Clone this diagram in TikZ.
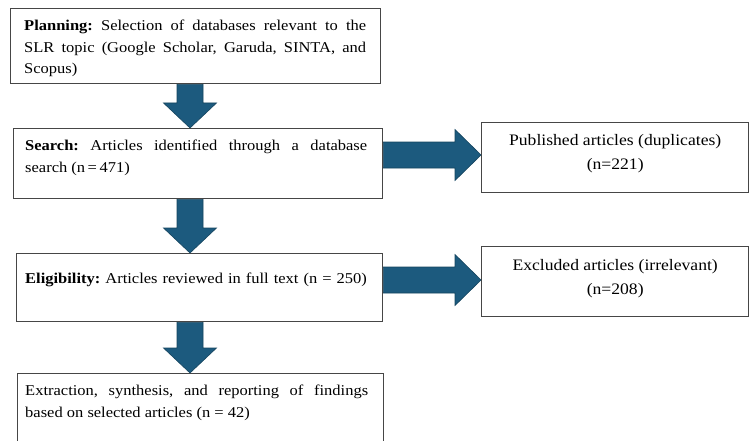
\documentclass[tikz,border=0pt]{standalone}
\usepackage{fontspec}
\setmainfont{Liberation Serif}[FakeStretch=1.1]
\usetikzlibrary{calc}
\definecolor{arrowblue}{RGB}{28,90,126}
\definecolor{boxgray}{RGB}{70,70,70}
\newcommand{\vblock}[2]{\path[blk] ($(#1)+(-13,0)$) -- ($(#1)+(13,0)$) -- ($(#2)+(13,25)$) -- ($(#2)+(26.5,25)$) -- (#2) -- ($(#2)+(-26.5,25)$) -- ($(#2)+(-13,25)$) -- cycle;}
\newcommand{\hblock}[2]{\path[blk] ($(#1)+(0,13)$) -- ($(#2)+(-26,13)$) -- ($(#2)+(-26,25.5)$) -- (#2) -- ($(#2)+(-26,-25.5)$) -- ($(#2)+(-26,-13)$) -- ($(#1)+(0,-13)$) -- cycle;}
\begin{document}
\frenchspacing
\begin{tikzpicture}[x=1pt,y=1pt,
  box/.style={draw=boxgray, line width=1.4pt, fill=white, anchor=north west, inner sep=0pt},
  txt/.style={anchor=north west, inner sep=0pt, font=\fontsize{15}{21.5}\selectfont, align=justify, text width=#1},
  ctxt/.style={inner sep=0pt, font=\fontsize{16}{23.5}\selectfont, align=center},
  blk/.style={fill=arrowblue, draw=arrowblue!75!black, line width=0.6pt}]
\useasboundingbox (0,0) rectangle (749,-441);
\clip (0,0) rectangle (749,-441);
\fill[white] (0,0) rectangle (749,-441);

\node[box, minimum width=370, minimum height=75] (plan) at (10,-8) {};
\node[box, minimum width=369, minimum height=70] (search) at (13,-128) {};
\node[box, minimum width=267, minimum height=70] (pub) at (481,-122) {};
\node[box, minimum width=366, minimum height=68] (elig) at (16,-253) {};
\node[box, minimum width=267, minimum height=70] (excl) at (481,-246) {};
\node[box, minimum width=366, minimum height=90] (final) at (17,-373) {};

\node[txt=342pt] (plantxt) at ($(plan.north west)+(14,-12)$) {\textbf{Planning:} Selection of databases relevant to the SLR topic (Google Scholar, Garuda, SINTA, and Scopus)};
\node[txt=342pt] (searchtxt) at ($(search.north west)+(12,-12)$) {\textbf{Search:} Articles identified through a database search (n\,=\,471)};
\node[txt=350pt, align=left] (eligtxt) at ($(elig.north west)+(9,-20)$) {\textbf{Eligibility:} Articles reviewed in full text (n = 250)};
\node[txt=343pt] (finaltxt) at ($(final.north west)+(8,-12)$) {Extraction, synthesis, and reporting of findings based on selected articles (n = 42)};
\node[ctxt] (pubtxt) at ($(pub.center)+(0,4)$) {Published articles (duplicates)\\(n=221)};
\node[ctxt] (excltxt) at ($(excl.center)+(0,3)$) {Excluded articles (irrelevant)\\(n=208)};

\coordinate (ax) at (190,0);
\coordinate (h1) at (0,-155);
\coordinate (h2) at (0,-280);
\vblock{ax |- plan.south}{ax |- search.north}
\vblock{ax |- search.south}{ax |- elig.north}
\vblock{ax |- elig.south}{ax |- final.north}
\hblock{h1 -| search.east}{h1 -| pub.west}
\hblock{h2 -| elig.east}{h2 -| excl.west}
\end{tikzpicture}
\end{document}
